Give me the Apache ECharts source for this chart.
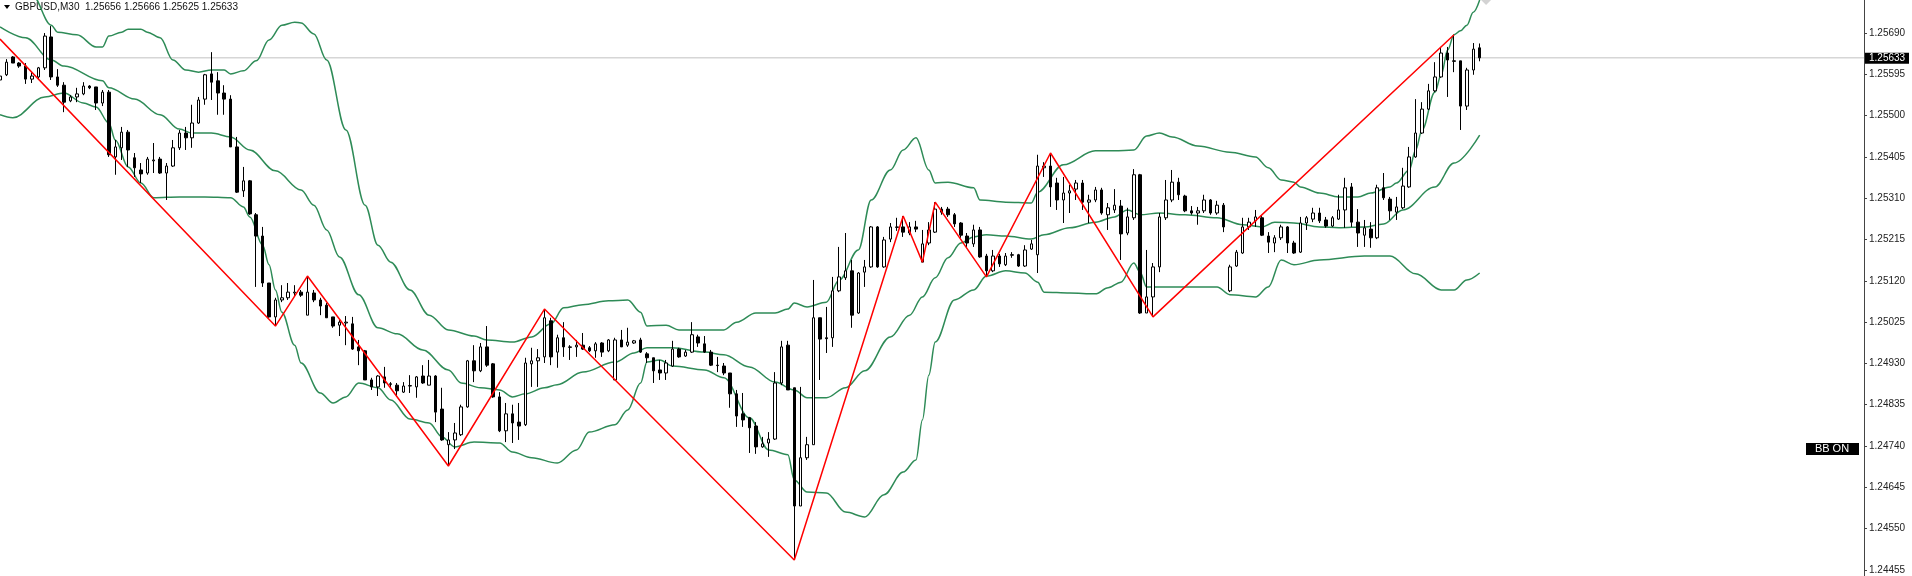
<!DOCTYPE html>
<html>
<head>
<meta charset="utf-8">
<title>GBPUSD,M30</title>
<script src="https://cdn.jsdelivr.net/npm/echarts@6/dist/echarts.min.js"></script>
<style>
  html, body { margin: 0; padding: 0; background: #fff; }
  #chart { width: 1912px; height: 576px; }
</style>
</head>
<body>
<div id="chart"></div>
<script>
// bars counted from the left edge of the window; [open, close, low, high]
var ohlc = [
  [1.25582,1.25591,1.25543,1.25633],[1.25594,1.25623,1.25591,1.25630],[1.25635,1.25621,1.25621,1.25637],[1.25621,1.25614,1.25610,1.25623],
  [1.25614,1.25584,1.25573,1.25621],[1.25584,1.25591,1.25575,1.25600],[1.25589,1.25610,1.25582,1.25612],[1.25610,1.25683,1.25605,1.25690],
  [1.25681,1.25589,1.25582,1.25706],[1.25589,1.25570,1.25566,1.25607],[1.25570,1.25531,1.25508,1.25577],[1.25534,1.25543,1.25531,1.25547],
  [1.25543,1.25550,1.25531,1.25564],[1.25550,1.25568,1.25547,1.25577],[1.25568,1.25564,1.25561,1.25570],[1.25566,1.25529,1.25513,1.25566],
  [1.25529,1.25554,1.25522,1.25559],[1.25554,1.25410,1.25405,1.25559],[1.25405,1.25428,1.25364,1.25444],[1.25426,1.25462,1.25398,1.25474],
  [1.25462,1.25421,1.25382,1.25467],[1.25403,1.25380,1.25359,1.25414],[1.25375,1.25366,1.25345,1.25391],[1.25368,1.25400,1.25364,1.25405],
  [1.25396,1.25398,1.25368,1.25437],[1.25400,1.25368,1.25366,1.25405],[1.25368,1.25384,1.25306,1.25391],[1.25384,1.25426,1.25382,1.25444],
  [1.25426,1.25460,1.25421,1.25467],[1.25460,1.25449,1.25421,1.25474],[1.25449,1.25483,1.25426,1.25525],[1.25483,1.25536,1.25481,1.25543],
  [1.25538,1.25594,1.25525,1.25596],[1.25596,1.25577,1.25536,1.25646],[1.25580,1.25552,1.25502,1.25600],[1.25552,1.25538,1.25502,1.25570],
  [1.25538,1.25428,1.25428,1.25547],[1.25428,1.25324,1.25322,1.25451],[1.25327,1.25350,1.25313,1.25382],[1.25350,1.25274,1.25272,1.25352],
  [1.25272,1.25223,1.25106,1.25276],[1.25223,1.25115,1.25106,1.25244],[1.25115,1.25037,1.25035,1.25115],[1.25037,1.25076,1.25016,1.25081],
  [1.25076,1.25081,1.25071,1.25110],[1.25081,1.25094,1.25076,1.25115],[1.25092,1.25094,1.25083,1.25110],[1.25094,1.25087,1.25083,1.25099],
  [1.25041,1.25094,1.25041,1.25131],[1.25092,1.25076,1.25071,1.25099],[1.25076,1.25062,1.25041,1.25081],[1.25064,1.25035,1.25035,1.25069],
  [1.25037,1.25016,1.25012,1.25037],[1.25018,1.25025,1.24993,1.25030],[1.25023,1.25025,1.24972,1.25039],[1.25021,1.24963,1.24961,1.25037],
  [1.24968,1.24959,1.24926,1.24984],[1.24959,1.24892,1.24892,1.24961],[1.24892,1.24876,1.24869,1.24897],[1.24876,1.24901,1.24855,1.24903],
  [1.24899,1.24885,1.24874,1.24922],[1.24883,1.24882,1.24876,1.24887],[1.24880,1.24867,1.24853,1.24885],[1.24864,1.24878,1.24862,1.24887],
  [1.24878,1.24879,1.24862,1.24903],[1.24876,1.24899,1.24851,1.24901],[1.24901,1.24885,1.24883,1.24926],[1.24880,1.24901,1.24880,1.24938],
  [1.24901,1.24818,1.24795,1.24903],[1.24825,1.24754,1.24752,1.24874],[1.24743,1.24754,1.24694,1.24772],[1.24754,1.24770,1.24733,1.24793],
  [1.24766,1.24830,1.24763,1.24835],[1.24830,1.24936,1.24828,1.24938],[1.24936,1.24913,1.24887,1.24972],[1.24913,1.24968,1.24910,1.24977],
  [1.24968,1.24926,1.24922,1.25016],[1.24929,1.24853,1.24851,1.24931],[1.24853,1.24775,1.24772,1.24864],[1.24775,1.24814,1.24749,1.24839],
  [1.24814,1.24793,1.24747,1.24835],[1.24795,1.24786,1.24754,1.24839],[1.24789,1.24931,1.24786,1.24943],[1.24929,1.24936,1.24876,1.24966],
  [1.24936,1.24943,1.24876,1.24963],[1.24945,1.25035,1.24931,1.25055],[1.25028,1.24945,1.24926,1.25035],[1.24956,1.24989,1.24920,1.24996],
  [1.24989,1.24968,1.24945,1.25025],[1.24968,1.24967,1.24938,1.24972],[1.24968,1.24972,1.24945,1.24984],[1.24972,1.24963,1.24961,1.25000],
  [1.24966,1.24959,1.24956,1.24970],[1.24959,1.24975,1.24943,1.24979],[1.24977,1.24956,1.24945,1.24979],[1.24959,1.24984,1.24956,1.24986],
  [1.24892,1.24984,1.24892,1.24989],[1.24984,1.24968,1.24968,1.25007],[1.24972,1.24979,1.24968,1.25012],[1.24977,1.24982,1.24975,1.24984],
  [1.24984,1.24956,1.24954,1.24989],[1.24952,1.24943,1.24931,1.24956],[1.24943,1.24913,1.24885,1.24943],[1.24915,1.24908,1.24892,1.24938],
  [1.24908,1.24931,1.24892,1.24938],[1.24924,1.24963,1.24922,1.24982],[1.24963,1.24945,1.24943,1.24966],[1.24947,1.24956,1.24945,1.24961],
  [1.24956,1.24996,1.24954,1.25025],[1.24991,1.24977,1.24968,1.24996],[1.24975,1.24956,1.24954,1.24993],[1.24956,1.24926,1.24924,1.24961],
  [1.24926,1.24925,1.24910,1.24945],[1.24924,1.24908,1.24903,1.24931],[1.24908,1.24860,1.24828,1.24908],[1.24860,1.24809,1.24784,1.24869],
  [1.24814,1.24800,1.24784,1.24862],[1.24805,1.24782,1.24724,1.24807],[1.24786,1.24738,1.24722,1.24795],[1.24738,1.24745,1.24736,1.24761],
  [1.24747,1.24756,1.24715,1.24772],[1.24756,1.24885,1.24754,1.24910],[1.24885,1.24968,1.24880,1.24982],[1.24972,1.24869,1.24869,1.24982],
  [1.24874,1.24602,1.24478,1.24874],[1.24602,1.24713,1.24602,1.24876],[1.24713,1.24743,1.24708,1.24761],[1.24743,1.25035,1.24743,1.25122],
  [1.25035,1.24986,1.24892,1.25035],[1.24989,1.24987,1.24954,1.25060],[1.24989,1.25097,1.24968,1.25129],[1.25097,1.25129,1.25094,1.25198],
  [1.25127,1.25143,1.25122,1.25230],[1.25143,1.25041,1.25012,1.25168],[1.25046,1.25138,1.25044,1.25140],[1.25140,1.25152,1.25106,1.25168],
  [1.25152,1.25244,1.25150,1.25246],[1.25244,1.25152,1.25150,1.25246],[1.25152,1.25214,1.25150,1.25221],[1.25216,1.25244,1.25209,1.25253],
  [1.25244,1.25243,1.25235,1.25265],[1.25244,1.25232,1.25221,1.25269],[1.25230,1.25244,1.25225,1.25255],[1.25244,1.25239,1.25232,1.25258],
  [1.25163,1.25205,1.25163,1.25237],[1.25207,1.25237,1.25202,1.25255],[1.25232,1.25285,1.25230,1.25301],[1.25285,1.25278,1.25272,1.25290],
  [1.25285,1.25272,1.25267,1.25290],[1.25272,1.25251,1.25244,1.25276],[1.25253,1.25225,1.25219,1.25255],[1.25223,1.25207,1.25198,1.25230],
  [1.25205,1.25237,1.25198,1.25249],[1.25237,1.25175,1.25173,1.25244],[1.25177,1.25143,1.25129,1.25182],[1.25143,1.25177,1.25140,1.25191],
  [1.25177,1.25159,1.25152,1.25182],[1.25157,1.25177,1.25154,1.25184],[1.25180,1.25179,1.25173,1.25186],[1.25180,1.25154,1.25152,1.25182],
  [1.25154,1.25191,1.25152,1.25202],[1.25193,1.25205,1.25191,1.25214],[1.25180,1.25384,1.25138,1.25410],[1.25380,1.25384,1.25359,1.25393],
  [1.25384,1.25336,1.25290,1.25414],[1.25345,1.25306,1.25283,1.25357],[1.25306,1.25322,1.25253,1.25359],[1.25322,1.25327,1.25276,1.25341],
  [1.25331,1.25345,1.25306,1.25352],[1.25345,1.25301,1.25283,1.25352],[1.25301,1.25306,1.25253,1.25318],[1.25306,1.25329,1.25301,1.25336],
  [1.25329,1.25276,1.25272,1.25334],[1.25272,1.25288,1.25237,1.25299],[1.25283,1.25294,1.25276,1.25331],[1.25292,1.25228,1.25168,1.25306],
  [1.25230,1.25267,1.25225,1.25288],[1.25265,1.25364,1.25260,1.25377],[1.25364,1.25046,1.25044,1.25366],[1.25046,1.25083,1.25046,1.25191],
  [1.25083,1.25152,1.25037,1.25161],[1.25152,1.25267,1.25140,1.25276],[1.25265,1.25306,1.25260,1.25352],[1.25306,1.25347,1.25301,1.25375],
  [1.25347,1.25318,1.25306,1.25357],[1.25315,1.25281,1.25278,1.25318],[1.25281,1.25276,1.25272,1.25292],[1.25276,1.25281,1.25249,1.25290],
  [1.25281,1.25306,1.25276,1.25318],[1.25306,1.25276,1.25272,1.25308],[1.25276,1.25294,1.25272,1.25304],[1.25294,1.25244,1.25232,1.25299],
  [1.25097,1.25152,1.25094,1.25157],[1.25154,1.25186,1.25152,1.25191],[1.25184,1.25244,1.25182,1.25265],[1.25244,1.25255,1.25237,1.25265],
  [1.25258,1.25267,1.25244,1.25283],[1.25265,1.25225,1.25223,1.25269],[1.25223,1.25209,1.25184,1.25232],[1.25207,1.25219,1.25186,1.25225],
  [1.25219,1.25244,1.25214,1.25249],[1.25244,1.25207,1.25184,1.25246],[1.25207,1.25184,1.25182,1.25212],[1.25186,1.25253,1.25184,1.25267],
  [1.25253,1.25265,1.25237,1.25269],[1.25262,1.25276,1.25255,1.25288],[1.25276,1.25258,1.25253,1.25288],[1.25260,1.25246,1.25242,1.25267],
  [1.25246,1.25265,1.25244,1.25269],[1.25262,1.25283,1.25260,1.25318],[1.25283,1.25334,1.25242,1.25357],[1.25336,1.25255,1.25244,1.25345],
  [1.25255,1.25230,1.25198,1.25285],[1.25225,1.25242,1.25198,1.25260],[1.25239,1.25219,1.25196,1.25255],[1.25219,1.25334,1.25216,1.25341],
  [1.25334,1.25311,1.25306,1.25368],[1.25308,1.25281,1.25260,1.25313],[1.25278,1.25290,1.25260,1.25313],[1.25288,1.25338,1.25285,1.25380],
  [1.25336,1.25405,1.25334,1.25428],[1.25405,1.25460,1.25403,1.25538],[1.25460,1.25515,1.25458,1.25531],[1.25515,1.25557,1.25513,1.25573],
  [1.25557,1.25589,1.25554,1.25623],[1.25589,1.25644,1.25587,1.25658],[1.25644,1.25628,1.25543,1.25658],[1.25626,1.25625,1.25600,1.25686],
  [1.25626,1.25522,1.25467,1.25626],[1.25522,1.25605,1.25513,1.25610],[1.25605,1.25653,1.25594,1.25667],[1.25656,1.25633,1.25625,1.25666]
];

// zigzag pivots [bar, price]
var zigzag = [[0,1.25676],[43,1.25016],[48,1.25131],[70,1.24694],[85,1.25055],[124,1.24478],[141,1.25269],
  [144,1.25163],[146,1.25301],[154,1.25129],[164,1.25414],[180,1.25037],[227,1.25686]];

// Bollinger bands [bar, price]
var upperBand = [[0,1.25909],[3,1.25835],[5,1.25778],[8,1.25708],[9,1.25692],[12,1.25686],[15,1.25658],[16,1.25658],
  [17,1.25683],[19,1.25692],[20,1.25699],[22,1.25699],[23,1.25692],[25,1.25679],[27,1.25628],[29,1.25605],[31,1.25600],
  [33,1.25605],[35,1.25605],[36,1.25596],[38,1.25603],[40,1.25626],[42,1.25674],[44,1.25708],[46,1.25715],[47,1.25713],
  [49,1.25688],[51,1.25628],[54,1.25467],[57,1.25294],[59,1.25202],[61,1.25163],[64,1.25099],[67,1.25041],[70,1.25007],
  [74,1.24993],[76,1.24984],[80,1.24979],[83,1.24991],[86,1.25021],[88,1.25058],[91,1.25065],[95,1.25074],[98,1.25076],
  [100,1.25048],[101,1.25016],[104,1.25018],[106,1.25007],[113,1.25007],[115,1.25025],[118,1.25046],[121,1.25046],
  [123,1.25055],[124,1.25069],[126,1.25060],[129,1.25071],[131,1.25122],[134,1.25191],[136,1.25306],[139,1.25375],
  [141,1.25421],[143,1.25449],[145,1.25375],[146,1.25345],[148,1.25347],[152,1.25334],[153,1.25306],[157,1.25301],
  [161,1.25299],[162,1.25324],[166,1.25387],[171,1.25419],[174,1.25419],[177,1.25421],[179,1.25453],[181,1.25460],
  [183,1.25451],[187,1.25430],[192,1.25416],[196,1.25405],[198,1.25380],[200,1.25352],[202,1.25347],[203,1.25336],
  [206,1.25322],[209,1.25313],[212,1.25313],[214,1.25322],[217,1.25336],[218,1.25345],[220,1.25375],[221,1.25421],
  [222,1.25467],[224,1.25554],[225,1.25594],[226,1.25651],[227,1.25686],[228,1.25695],[229,1.25708],[230,1.25738],[231,1.25766]];
var midBand = [[0,1.25704],[4,1.25679],[8,1.25628],[10,1.25614],[16,1.25580],[17,1.25564],[21,1.25538],[25,1.25502],
  [28,1.25469],[30,1.25460],[33,1.25460],[36,1.25451],[39,1.25421],[43,1.25373],[47,1.25329],[49,1.25294],[51,1.25237],
  [53,1.25175],[56,1.25088],[59,1.25012],[62,1.24998],[66,1.24961],[70,1.24915],[72,1.24885],[75,1.24874],[78,1.24869],
  [80,1.24853],[82,1.24860],[85,1.24874],[87,1.24881],[91,1.24910],[96,1.24933],[99,1.24954],[101,1.24966],[105,1.24966],
  [110,1.24956],[113,1.24950],[117,1.24922],[121,1.24887],[124,1.24869],[126,1.24851],[129,1.24851],[132,1.24874],
  [135,1.24913],[139,1.24991],[142,1.25041],[144,1.25083],[146,1.25127],[148,1.25173],[150,1.25207],[152,1.25221],
  [154,1.25226],[157,1.25223],[161,1.25216],[163,1.25226],[167,1.25242],[171,1.25255],[174,1.25267],[176,1.25283],
  [178,1.25272],[181,1.25276],[185,1.25272],[190,1.25265],[194,1.25249],[197,1.25244],[199,1.25255],[202,1.25253],
  [206,1.25244],[209,1.25242],[213,1.25244],[216,1.25251],[219,1.25283],[224,1.25336],[227,1.25391],[231,1.25455]];
var lowerBand = [[0,1.25502],[2,1.25495],[7,1.25543],[10,1.25552],[13,1.25529],[15,1.25520],[17,1.25483],[18,1.25444],
  [20,1.25382],[22,1.25345],[24,1.25311],[28,1.25313],[32,1.25313],[36,1.25311],[38,1.25290],[39,1.25267],[41,1.25202],
  [42,1.25157],[43,1.25099],[44,1.25048],[46,1.24972],[47,1.24931],[50,1.24862],[52,1.24839],[54,1.24853],[56,1.24885],
  [59,1.24874],[61,1.24846],[64,1.24802],[67,1.24793],[69,1.24761],[71,1.24738],[74,1.24749],[78,1.24747],[80,1.24726],
  [83,1.24713],[87,1.24701],[90,1.24731],[92,1.24772],[96,1.24789],[98,1.24823],[100,1.24885],[101,1.24933],[103,1.24938],
  [105,1.24924],[110,1.24915],[113,1.24897],[117,1.24805],[120,1.24731],[123,1.24720],[124,1.24662],[126,1.24634],
  [129,1.24632],[132,1.24588],[135,1.24577],[138,1.24628],[141,1.24680],[143,1.24708],[144,1.24800],[145,1.24903],
  [146,1.24979],[149,1.25076],[152,1.25099],[154,1.25131],[157,1.25143],[160,1.25138],[162,1.25117],[163,1.25094],
  [167,1.25092],[171,1.25090],[173,1.25104],[175,1.25117],[177,1.25161],[178,1.25140],[179,1.25106],[185,1.25106],
  [190,1.25106],[192,1.25088],[196,1.25083],[198,1.25106],[200,1.25168],[202,1.25157],[206,1.25168],[213,1.25177],
  [217,1.25177],[221,1.25136],[225,1.25099],[227,1.25099],[229,1.25122],[231,1.25138]];

var priceTicks = [1.24455,1.24550,1.24645,1.24740,1.24835,1.24930,1.25025,1.25120,1.25215,1.25310,1.25405,1.25500,1.25595,1.25690];
var lastPrice = 1.25633;
var priceLine = [[0, lastPrice], [291, lastPrice]];
var signalMark = [[232, 1.25766]];
var slots = [];
for (var i = 0; i < 292; i++) slots.push(String(i));

var FONT = '"Liberation Sans", Arial, sans-serif';
var chart = echarts.init(document.getElementById('chart'));

var bandLine = function (data) {
  return {
    type: 'line', data: data, symbol: 'none', smooth: 0.35, smoothMonotone: 'x',
    lineStyle: { color: '#2e8b57', width: 1.5 }, z: 3, silent: true
  };
};

chart.setOption({
  animation: false,
  backgroundColor: '#ffffff',
  grid: { left: 0, right: 48, top: 0, bottom: 0 },
  xAxis: { type: 'category', data: slots, boundaryGap: false, show: false },
  yAxis: {
    type: 'value', position: 'right', min: 1.24441, max: 1.25766,
    splitLine: { show: false },
    axisLine: { show: true, lineStyle: { color: '#444', width: 1 } },
    axisTick: { show: true, length: 3, customValues: priceTicks, lineStyle: { color: '#444' } },
    axisLabel: {
      customValues: priceTicks, margin: 5, fontSize: 10, color: '#222', fontFamily: FONT,
      formatter: function (v) { return v.toFixed(5); }
    }
  },
  series: [
    {
      type: 'line', data: priceLine, symbol: 'none', z: 1, silent: true, clip: false,
      lineStyle: { color: '#d6d6d6', width: 1.5 }
    },
    bandLine(upperBand),
    bandLine(midBand),
    bandLine(lowerBand),
    {
      type: 'candlestick', data: ohlc, barWidth: 3, z: 4,
      itemStyle: { color: '#ffffff', color0: '#000000', borderColor: '#000000', borderColor0: '#000000', borderWidth: 1 }
    },
    {
      type: 'line', data: zigzag, symbol: 'none', z: 5, silent: true,
      lineStyle: { color: '#ff0000', width: 1.5 }
    },
    {
      type: 'scatter', data: signalMark, symbol: 'diamond', symbolSize: 10, clip: false, silent: true,
      itemStyle: { color: '#c8c8c8' }
    }
  ]
});

// price tag on the axis, placed through the axis scale
var tagY = chart.convertToPixel({ yAxisIndex: 0 }, lastPrice);
var axisX = chart.convertToPixel({ xAxisIndex: 0 }, '291');
chart.setOption({
  graphic: [
    { type: 'polygon', shape: { points: [[4, 5], [10, 5], [7, 9]] }, style: { fill: '#000' } },
    { type: 'text', x: 15, y: 7, style: { text: 'GBPUSD,M30  1.25656 1.25666 1.25625 1.25633', fill: '#111',
      font: '10px ' + FONT, verticalAlign: 'middle' } },
    { type: 'rect', shape: { x: 1806, y: 443, width: 53, height: 12 }, style: { fill: '#000' } },
    { type: 'text', x: 1832, y: 449, style: { text: 'BB ON', fill: '#fff', font: '11px ' + FONT,
      align: 'center', verticalAlign: 'middle' } },
    { type: 'rect', shape: { x: axisX + 1, y: tagY - 5, width: 44, height: 11 }, style: { fill: '#000' }, z: 10 },
    { type: 'text', x: axisX + 5, y: tagY + 0.5, z: 11, style: { text: lastPrice.toFixed(5), fill: '#fff',
      font: '10px ' + FONT, verticalAlign: 'middle' } }
  ]
});
</script>
</body>
</html>
